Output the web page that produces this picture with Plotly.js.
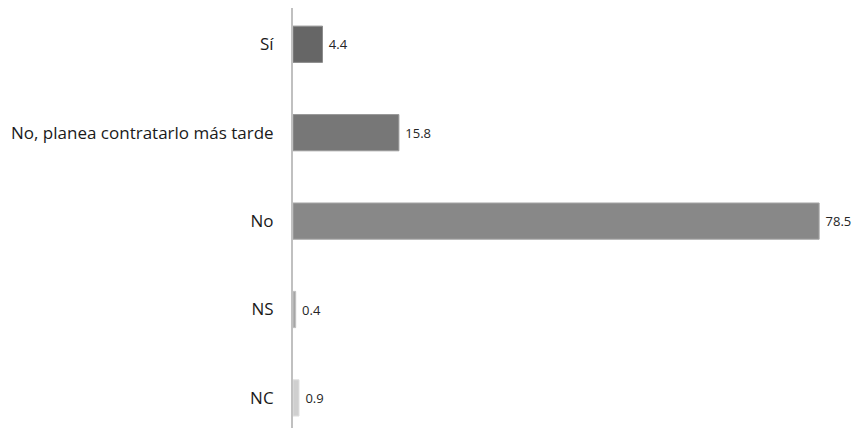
<!DOCTYPE html>
<html>
<head>
<meta charset="utf-8">
<script src="https://cdn.plot.ly/plotly-3.0.1.min.js"></script>
<style>html,body{margin:0;padding:0;background:#fff;}#chart{width:858px;height:430px;}</style>
</head>
<body>
<div id="chart"></div>
<script>
const categories = ["Sí", "No, planea contratarlo más tarde", "No", "NS", "NC"];
const values = [4.4, 15.8, 78.5, 0.4, 0.9];
const barColors = ["#666666", "#777777", "#888888", "#a6a6a6", "#cfcfcf"];
const borderColors = ["#8c8c8c", "#999999", "#a8a8a8", "#c0c0c0", "#e0e0e0"];

const trace = {
  type: "bar",
  orientation: "h",
  y: categories,
  x: values,
  text: values.map(v => "\u00a0" + v.toFixed(1)),
  textposition: "outside",
  cliponaxis: false,
  constraintext: "none",
  textfont: {family: "'Open Sans', sans-serif", size: 13, color: "#262626"},
  marker: {color: barColors, line: {color: borderColors, width: 1}},
  hoverinfo: "skip"
};

const layout = {
  width: 858, height: 430,
  margin: {l: 293, r: 2, t: 8, b: 2},
  paper_bgcolor: "#ffffff", plot_bgcolor: "#ffffff",
  bargap: 0.59,
  showlegend: false,
  xaxis: {range: [0, 84], visible: false, showgrid: false, zeroline: false},
  yaxis: {
    type: "category",
    range: [4.34, -0.41],
    showline: true, linecolor: "#c0c0c0", linewidth: 2,
    showgrid: false, zeroline: false,
    ticks: "", ticklabelstandoff: 14,
    tickfont: {family: "'Open Sans', sans-serif", size: 17, color: "#1a1a1a"}
  },
  font: {family: "'Open Sans', sans-serif"}
};

Plotly.newPlot("chart", [trace], layout, {displayModeBar: false, staticPlot: true});
</script>
</body>
</html>
